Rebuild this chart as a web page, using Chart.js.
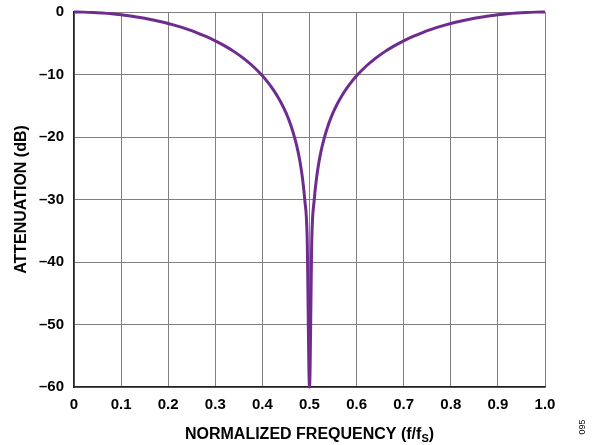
<!DOCTYPE html>
<html>
<head>
<meta charset="utf-8">
<script src="https://cdn.jsdelivr.net/npm/chart.js@4/dist/chart.umd.min.js"></script>
<style>
  html, body { margin: 0; padding: 0; background: #fff; }
  #wrap { width: 593px; height: 445px; position: relative; }
</style>
</head>
<body>
<div id="wrap"><canvas id="chart" width="593" height="445"></canvas></div>
<script>
/* notch response */

const FREQ = [
  0, 0.02, 0.04, 0.06, 0.08, 0.1, 0.12, 0.14, 0.16, 0.18, 0.2, 0.22, 0.24, 0.26, 0.28,
  0.3, 0.32, 0.34, 0.36, 0.38, 0.4, 0.41, 0.42, 0.43, 0.44, 0.45, 0.46, 0.47, 0.475,
  0.48, 0.485, 0.49, 0.495, 0.5,
  0.505, 0.51, 0.515, 0.52, 0.525, 0.53, 0.54, 0.55, 0.56, 0.57, 0.58, 0.59, 0.6,
  0.62, 0.64, 0.66, 0.68, 0.7, 0.72, 0.74, 0.76, 0.78, 0.8, 0.82, 0.84, 0.86, 0.88,
  0.9, 0.92, 0.94, 0.96, 0.98, 1.0
];

const ATTEN = [
  0, -0.02, -0.07, -0.16, -0.28, -0.44, -0.63, -0.87, -1.15, -1.47, -1.84, -2.26, -2.75, -3.29, -3.91,
  -4.62, -5.42, -6.34, -7.42, -8.68, -10.2, -11.09, -12.09, -13.23, -14.55, -16.11, -18.04, -20.53, -22.11,
  -24.04, -26.54, -30.06, -36.08, -60,
  -36.08, -30.06, -26.54, -24.04, -22.11, -20.53, -18.04, -16.11, -14.55, -13.23, -12.09, -11.09, -10.2,
  -8.68, -7.42, -6.34, -5.42, -4.62, -3.91, -3.29, -2.75, -2.26, -1.84, -1.47, -1.15, -0.87, -0.63,
  -0.44, -0.28, -0.16, -0.07, -0.02, 0
];

const X_TICKS = [0, 0.1, 0.2, 0.3, 0.4, 0.5, 0.6, 0.7, 0.8, 0.9, 1.0];
const Y_TICKS = [0, -10, -20, -30, -40, -50, -60];

const FONT = "'Liberation Sans', Arial, sans-serif";
const PURPLE = "#6e2c8f";

// x title with subscript S, and the small figure number at the right edge
const extraText = {
  id: "extraText",
  afterDraw(chart) {
    const { ctx, chartArea } = chart;
    ctx.save();
    ctx.fillStyle = "#000";
    ctx.textBaseline = "alphabetic";
    const big = "bold 16px " + FONT, small = "bold 11px " + FONT;
    const main = "NORMALIZED FREQUENCY (f/f", sub = "S", tail = ")";
    ctx.font = big;
    const w1 = ctx.measureText(main).width, w3 = ctx.measureText(tail).width;
    ctx.font = small;
    const w2 = ctx.measureText(sub).width;
    let x = (chartArea.left + chartArea.right) / 2 - (w1 + w2 + w3) / 2;
    const y = 439;
    ctx.font = big; ctx.fillText(main, x, y); x += w1;
    ctx.font = small; ctx.fillText(sub, x, y + 3); x += w2;
    ctx.font = big; ctx.fillText(tail, x, y);
    ctx.translate(585, 427);
    ctx.rotate(-Math.PI / 2);
    ctx.font = "9px " + FONT;
    ctx.textAlign = "center";
    ctx.fillText("095", 0, 0);
    ctx.restore();
  }
};

new Chart(document.getElementById("chart"), {
  type: "scatter",
  data: {
    datasets: [{
      data: FREQ.map((f, i) => ({ x: f, y: ATTEN[i] })),
      showLine: true,
      borderColor: PURPLE,
      borderWidth: 3,
      pointRadius: 0,
      cubicInterpolationMode: "monotone",
      clip: 2,
    }],
  },
  options: {
    responsive: false,
    animation: false,
    layout: { padding: { top: 12, right: 48, left: 12, bottom: 0 } },
    plugins: { legend: { display: false }, tooltip: { enabled: false } },
    scales: {
      x: {
        type: "linear", min: 0, max: 1,
        afterFit: (s) => { s.height = 58; s.paddingLeft = 0; s.paddingRight = 0; },
        afterBuildTicks: (s) => { s.ticks = X_TICKS.map((v) => ({ value: v })); },
        grid: { color: "#808080", lineWidth: 1, drawTicks: false },
        border: { color: "#222", width: 1.5 },
        ticks: {
          padding: 9, color: "#000", maxRotation: 0,
          font: { family: FONT, size: 15, weight: "bold" },
          callback: (v) => (v === 0 ? "0" : v.toFixed(1)),
        },
      },
      y: {
        min: -60, max: 0,
        afterFit: (s) => { s.width = 62; s.paddingTop = 0; s.paddingBottom = 0; },
        afterBuildTicks: (s) => { s.ticks = Y_TICKS.map((v) => ({ value: v })); },
        grid: { color: "#808080", lineWidth: 1, drawTicks: false },
        border: { color: "#222", width: 1.5 },
        title: {
          display: true, text: "ATTENUATION (dB)", color: "#000", padding: { top: 0, bottom: 2 },
          font: { family: FONT, size: 16, weight: "bold" },
        },
        ticks: {
          padding: 10, color: "#000",
          font: { family: FONT, size: 15, weight: "bold" },
          callback: (v) => (v === 0 ? "0" : "\u2013" + Math.abs(v)),
        },
      },
    },
  },
  plugins: [extraText],
});
</script>
</body>
</html>
